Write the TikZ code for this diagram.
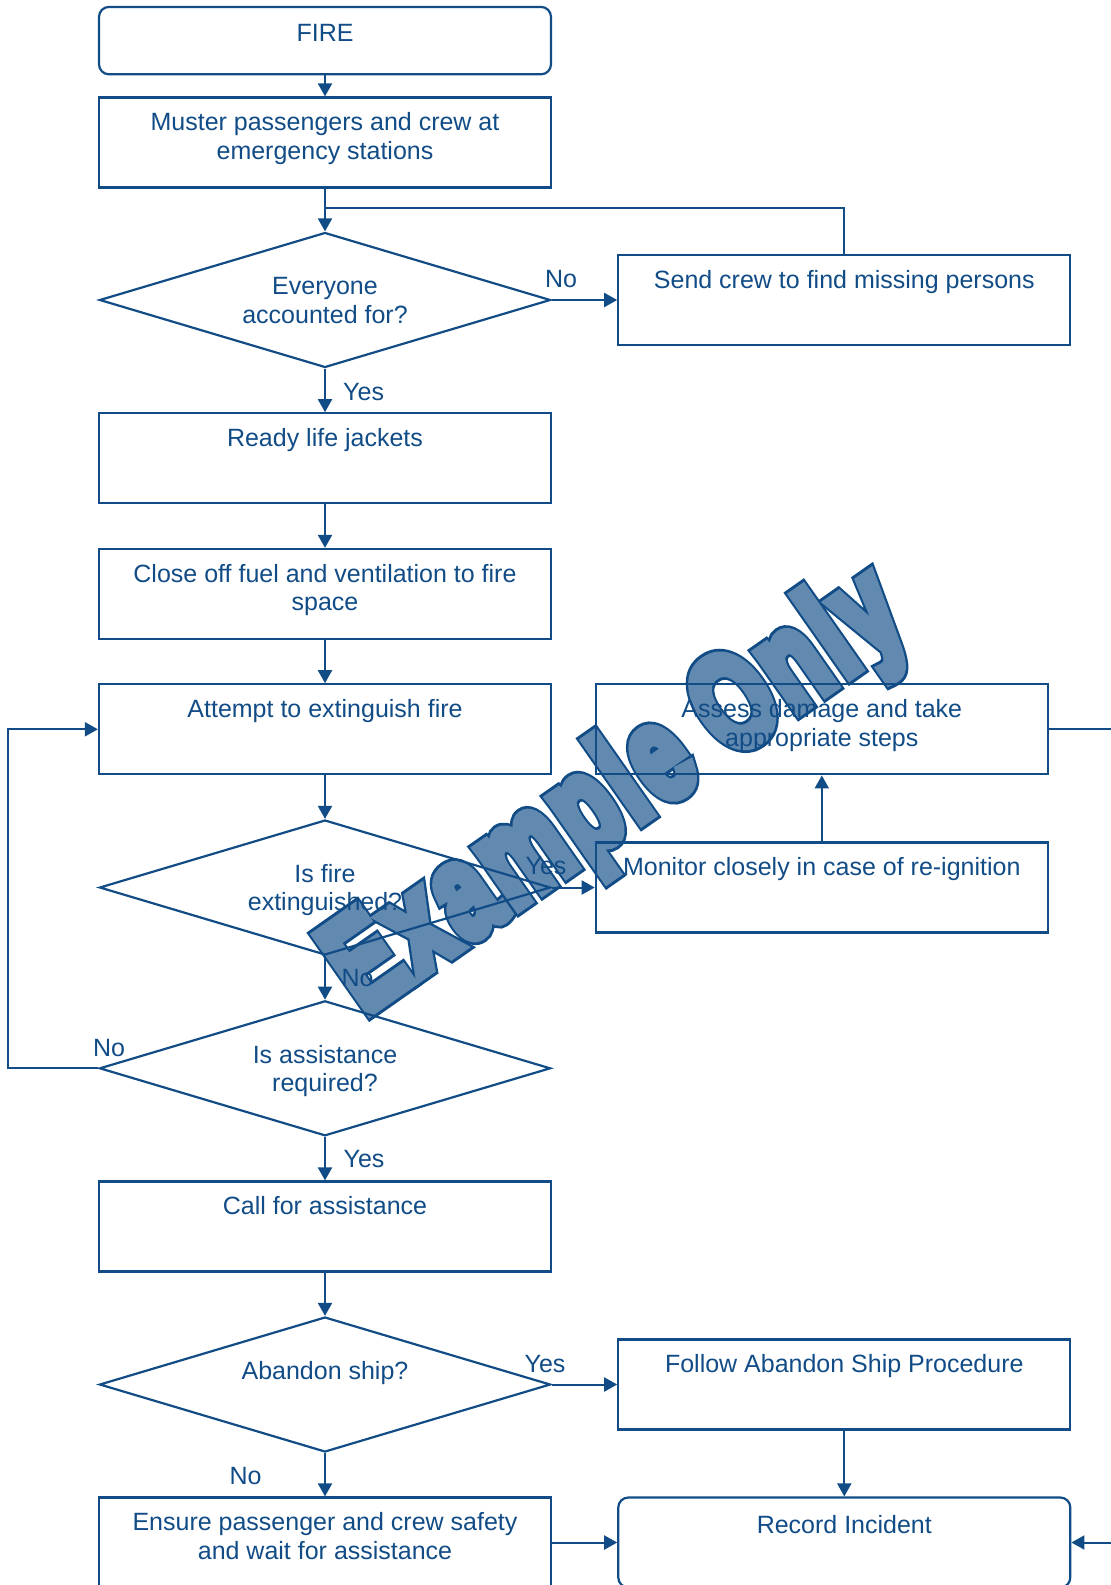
\documentclass[tikz,border=0pt]{standalone}
\usepackage{fontspec}
\setmainfont{Liberation Sans}
\newfontfamily\wmouter{Liberation Sans Bold}[FakeBold=13, LetterSpace=5]
\newfontfamily\wminner{Liberation Sans Bold}[FakeBold=8.5, LetterSpace=5]
\usetikzlibrary{shapes.geometric, arrows.meta, calc}
\definecolor{flow}{RGB}{17,76,134}

\begin{document}
\begin{tikzpicture}[x=0.5pt, y=-0.5pt,
  every node/.style={inner sep=0pt},
  txt/.style={font=\fontsize{12.5pt}{14.25pt}\selectfont, text=flow, align=center, anchor=north},
  lbl/.style={font=\fontsize{12.5pt}{14.25pt}\selectfont, text=flow, anchor=base},
  boxs/.style={draw=flow, line width=1.1pt, rectangle, minimum width=226pt, minimum height=45pt},
  rbox/.style={boxs, rounded corners=5pt},
  dec/.style={draw=flow, line width=1.1pt, diamond, minimum width=225.5pt, minimum height=67.5pt},
  conn/.style={draw=flow, line width=1pt},
  arr/.style={conn, -{Triangle[length=6.5pt, width=7pt]}},
  wm/.style={rotate=35, yscale=1.42},
]
\useasboundingbox (0,0) rectangle (1111,1585);

% watermark, drawn underneath the chart
\node[wm, text=flow, font=\wmouter\fontsize{47pt}{54pt}\selectfont] (wm-outer) at (618,795) {Example Only};
\node[wm, text=flow!66!white, font=\wminner\fontsize{47pt}{54pt}\selectfont] (wm-inner) at (618,795) {Example Only};

% shapes
\node[rbox, minimum height=33.7pt] (fire) at (325,40.6) {};
\node[boxs] (muster)  at (325,142.5) {};
\node[dec]  (d1)      at (325,300) {};
\node[boxs] (send)    at (844.3,300.3) {};
\node[boxs] (ready)   at (325,458.3) {};
\node[boxs] (close)   at (325,594) {};
\node[boxs] (attempt) at (325,729.3) {};
\node[boxs] (assess)  at (821.8,729.3) {};
\node[dec]  (d2)      at (325,887.5) {};
\node[boxs] (monitor) at (821.8,887.5) {};
\node[dec]  (d3)      at (325,1068.3) {};
\node[boxs] (call)    at (325,1226.5) {};
\node[dec]  (d4)      at (325,1384.5) {};
\node[boxs] (follow)  at (844.3,1384.5) {};
\node[boxs] (ensure)  at (325,1542.5) {};
\node[rbox] (record)  at (844.3,1542.5) {};

% texts
\node[txt] (fire-t)    at ([yshift=-7.5pt]fire.north) {\strut FIRE};
\node[txt] (muster-t)  at ([yshift=-7pt]muster.north) {\strut Muster passengers and crew at\\emergency stations};
\node[txt] (d1-t)      at ([yshift=12.8pt]d1.center) {\strut Everyone\\accounted for?};
\node[txt] (send-t)    at ([yshift=-7pt]send.north) {\strut Send crew to find missing persons};
\node[txt] (ready-t)   at ([yshift=-7pt]ready.north) {\strut Ready life jackets};
\node[txt] (close-t)   at ([yshift=-7pt]close.north) {\strut Close off fuel and ventilation to fire\\space};
\node[txt] (attempt-t) at ([yshift=-7pt]attempt.north) {\strut Attempt to extinguish fire};
\node[txt] (assess-t)  at ([yshift=-7pt]assess.north) {\strut Assess damage and take\\appropriate steps};
\node[txt] (d2-t)      at ([yshift=12.8pt]d2.center) {\strut Is fire\\extinguished?};
\node[txt] (monitor-t) at ([yshift=-7pt]monitor.north) {\strut Monitor closely in case of re-ignition};
\node[txt] (d3-t)      at ([yshift=12.8pt]d3.center) {\strut Is assistance\\required?};
\node[txt] (call-t)    at ([yshift=-7pt]call.north) {\strut Call for assistance};
\node[txt] (d4-t)      at ([yshift=12.8pt]d4.center) {\strut Abandon ship?};
\node[txt] (follow-t)  at ([yshift=-7pt]follow.north) {\strut Follow Abandon Ship Procedure};
\node[txt] (ensure-t)  at ([yshift=-7pt]ensure.north) {\strut Ensure passenger and crew safety\\and wait for assistance};
\node[txt] (record-t)  at ([yshift=-8.4pt]record.north) {\strut Record Incident};

% connectors
\coordinate (j1) at (325,207.7);
\coordinate (loopx) at (8.4,0);
\coordinate (offpage) at (1130,0);

\draw[arr] (fire.south) -- (muster.north);
\draw[arr] (muster.south) -- (d1.north);
\draw[conn] (send.north) |- (j1);
\draw[arr] (d1.east) -- (d1.east -| send.west);
\draw[arr] (d1.south) -- (ready.north);
\draw[arr] (ready.south) -- (close.north);
\draw[arr] (close.south) -- (attempt.north);
\draw[arr] (attempt.south) -- (d2.north);
\draw[arr] (d2.east) -- (monitor.west);
\draw[arr] (monitor.north) -- (assess.south);
\draw[arr] (d2.south) -- (d3.north);
\draw[arr] (d3.west) -- (d3.west -| loopx) |- (attempt.west);
\draw[arr] (d3.south) -- (call.north);
\draw[arr] (call.south) -- (d4.north);
\draw[arr] (d4.east) -- (follow.west);
\draw[arr] (d4.south) -- (ensure.north);
\draw[arr] (follow.south) -- (record.north);
\draw[arr] (ensure.east) -- (record.west);
\draw[arr] (assess.east) -- (assess.east -| offpage) |- (record.east);

% branch labels
\node[lbl] (d1-no)  at (561,287.3) {No};
\node[lbl] (d1-yes) at (363.6,400) {Yes};
\node[lbl] (d2-yes) at (546,874) {Yes};
\node[lbl] (d2-no)  at (357.5,986) {No};
\node[lbl] (d3-no)  at (109,1056) {No};
\node[lbl] (d3-yes) at (364,1167) {Yes};
\node[lbl] (d4-yes) at (545,1372) {Yes};
\node[lbl] (d4-no)  at (245.5,1484) {No};
\end{tikzpicture}
\end{document}
